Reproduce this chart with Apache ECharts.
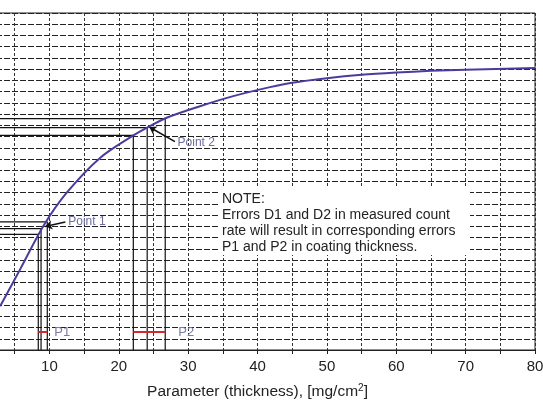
<!DOCTYPE html>
<html>
<head>
<meta charset="utf-8">
<script src="https://cdn.jsdelivr.net/npm/echarts@6/dist/echarts.min.js"></script>
<style>
  html, body { margin: 0; padding: 0; background: #fff; overflow: hidden; }
  /* the scanned chart is cropped on the left: the x=0 edge sits 20px off-page */
  #chart { width: 563px; height: 401px; margin-left: -20px; }
</style>
</head>
<body>
<div id="chart"></div>
<script>
// curve: thickness [mg/cm2] vs measured count rate (grid units)
var thickness = [2.9, 5.8, 9.2, 12.5, 17.3, 22.1, 24.1, 27, 31.7, 36.5, 41.8, 45, 50, 55, 60, 65, 70, 80];
var countRate = [3.9, 7.2, 11.1, 14.0, 17.1, 19.1, 19.8, 20.7, 21.7, 22.6, 23.4, 23.8, 24.2, 24.5, 24.7, 24.85, 24.95, 25.1];

// reading lines for the two example points (low, mid, high)
var p1X = [8.4, 8.8, 9.7];
var p1Y = [10.3, 10.8, 11.4];
var p2X = [22.1, 24.1, 26.7];
var p2Y = [19.1, 19.8, 20.6];
var errBarY = 1.6;

// leader lines: [from point, to label]
var lead1 = [[9.4, 11.0], [12.3, 11.4]];
var lead2 = [[24.4, 19.85], [28.1, 18.55]];

var xTicks = [10, 20, 30, 40, 50, 60, 70, 80];
var noteLines = [
  'NOTE:',
  'Errors D1 and D2 in measured count',
  'rate will result in corresponding errors',
  'P1 and P2 in coating thickness.'
];

var FONT = 'Liberation Sans, Arial, Helvetica, sans-serif';
var myChart = echarts.init(document.getElementById('chart'));

var curve = thickness.map(function (t, i) { return [t, countRate[i]]; });

function readLines(xs, ys) {
  return xs.map(function (x, i) {
    return {
      type: 'line',
      data: [[0, ys[i]], [x, ys[i]], [x, 0]],
      showSymbol: false,
      silent: true,
      z: 3,
      lineStyle: { color: '#111', width: 1.2 }
    };
  });
}

function errBar(xs, name, dist) {
  return {
    type: 'line',
    data: [[xs[0], errBarY], [xs[xs.length - 1], errBarY]],
    showSymbol: false,
    z: 4,
    lineStyle: { color: '#d8262b', width: 2 },
    endLabel: {
      show: true, formatter: name, distance: dist,
      color: '#7b7ba8', fontSize: 13, fontFamily: FONT
    }
  };
}

function leader(pts, name) {
  return {
    type: 'line',
    data: [],
    markLine: {
      silent: true,
      symbol: ['arrow', 'none'],
      symbolSize: 7,
      lineStyle: { color: '#111', width: 1.5, type: 'solid' },
      label: {
        show: true, position: 'end', formatter: name, distance: 3,
        color: '#6c6ca0', fontSize: 12, fontFamily: FONT
      },
      data: [[{ coord: pts[0] }, { coord: pts[1] }]]
    }
  };
}

var series = [{
  type: 'line',
  data: curve,
  smooth: 0.3,
  showSymbol: false,
  z: 5,
  lineStyle: { color: '#4a3c9c', width: 2 }
}];
series = series.concat(readLines(p1X, p1Y), readLines(p2X, p2Y));
series.push(errBar(p1X, 'P1', 7), errBar(p2X, 'P2', 13));
series.push(leader(lead1, 'Point 1'), leader(lead2, 'Point 2'));

var hDash = { color: '#222', width: 1, type: [6, 2] };
var vDash = { color: '#333', width: 1, type: [3, 2] };

myChart.setOption({
  animation: false,
  grid: {
    left: 0, right: 8, top: 13, bottom: 51,
    outerBoundsMode: 'none',
    containLabel: false,
    show: true, borderColor: '#222', borderWidth: 1
  },
  xAxis: {
    type: 'value',
    min: 0, max: 80, interval: 10,
    name: '{a|Parameter (thickness), [mg/cm}{s|2}{a|]}',
    nameLocation: 'middle',
    nameGap: 33,
    nameTextStyle: {
      rich: {
        a: { fontSize: 15.5, fontFamily: FONT, color: '#222' },
        s: { fontSize: 10, fontFamily: FONT, color: '#222', verticalAlign: 'top', padding: [0, 0, 8, 0] }
      }
    },
    axisLine: { lineStyle: { color: '#222', width: 1.2 } },
    axisTick: { show: true, length: 4, lineStyle: { color: '#222' } },
    minorTick: { show: true, splitNumber: 2, length: 4, lineStyle: { color: '#222' } },
    axisLabel: {
      color: '#222', fontSize: 15, fontFamily: FONT, margin: 9,
      formatter: function (v) { return xTicks.indexOf(v) >= 0 ? String(v) : ''; }
    },
    splitLine: { show: true, lineStyle: vDash },
    minorSplitLine: { show: true, lineStyle: vDash }
  },
  yAxis: {
    type: 'value',
    min: 0, max: 30, interval: 1,
    axisLine: { show: false },
    axisTick: { show: false },
    axisLabel: { show: false },
    splitLine: { show: true, lineStyle: hDash }
  },
  graphic: [{
    type: 'rect',
    z: 100,
    shape: { x: 238, y: 187, width: 252, height: 68 },
    style: { fill: '#fff' }
  }, {
    type: 'text',
    z: 101,
    x: 242, y: 191,
    style: {
      text: noteLines.join('\n'),
      fontSize: 14, fontFamily: FONT, lineHeight: 16,
      fill: '#222'
    }
  }],
  series: series
});
</script>
</body>
</html>
